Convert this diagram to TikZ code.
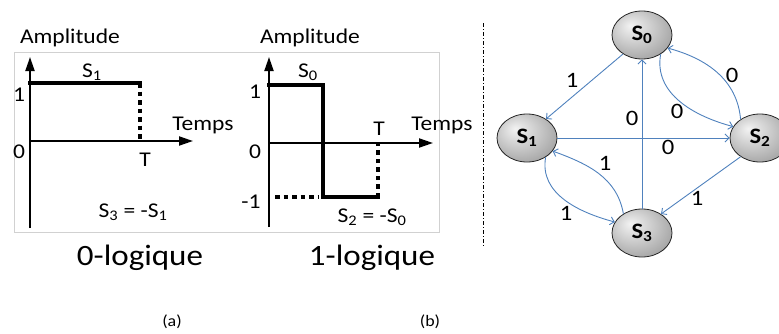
\documentclass[tikz,border=0pt]{standalone}
\usepackage{fontspec}
\setmainfont{Carlito}[FakeStretch=1.12]
\usetikzlibrary{arrows.meta,shapes.geometric}
\definecolor{edgeblue}{RGB}{79,129,189}
\pgfdeclareradialshading{stateball}{\pgfpoint{-10bp}{10bp}}{color(0bp)=(black!5); color(18bp)=(black!22); color(42bp)=(black!45); color(60bp)=(black!60)}
\tikzset{
  txt/.style={inner sep=0pt, font=\fontsize{21}{23}\selectfont},
  bigtxt/.style={inner sep=0pt, font=\fontsize{29.5}{32}\selectfont},
  captxt/.style={inner sep=0pt, font=\fontsize{16}{18}\selectfont},
  axis/.style={line width=2pt, -{Triangle[length=14pt,width=9pt]}},
  sig/.style={line width=3.5pt, line cap=rect},
  dots/.style={line width=4.5pt, dash pattern=on 4.5pt off 4pt},
  state/.style={ellipse, draw=black!85, line width=0.8pt, shading=stateball, minimum width=60pt, minimum height=48pt, inner sep=0pt, font=\fontsize{22}{24}\selectfont\bfseries},
  tr/.style={draw=edgeblue, line width=0.9pt, -{Straight Barb[length=4pt,width=8pt]}},
  elab/.style={inner sep=0pt, font=\fontsize{22}{24}\selectfont},
}
\begin{document}
\begin{tikzpicture}[x=1pt,y=1pt]
\useasboundingbox (0,0) rectangle (779,333);
% frame
\draw[black!18, line width=0.8pt] (14,101) rectangle (439,281);
% ---------- left plot ----------
\coordinate (ly0) at (30,105);
\coordinate (ly1) at (30,276);
\coordinate (lx0) at (30,192);
\coordinate (lx1) at (193,192);
\coordinate (la) at (30,250);
\coordinate (lb) at (140,250);
\coordinate (lc) at (140,192);
\draw[dots] (lb) -- (lc);
\draw[axis] (ly0) -- (ly1);
\draw[axis] (lx0) -- (lx1);
\draw[sig] (la) -- (lb);
\node[txt] (lamp) at (70,295) {Amplitude};
\node[txt] (l1) at (19,238) {1};
\node[txt] (l0) at (19,181) {0};
\node[txt] (ls1) at (92,261) {S\textsubscript{1}};
\node[txt] (ltemps) at (203,208) {Temps};
\node[txt] (lT) at (145,173) {T};
\node[txt] (ls3) at (133,121) {S\textsubscript{3} = -S\textsubscript{1}};
\node[bigtxt] (l0log) at (140,75) {0-logique};
% ---------- right plot ----------
\coordinate (ry0) at (269,106);
\coordinate (ry1) at (269,276);
\coordinate (rx0) at (269,190);
\coordinate (rx1) at (433,190);
\coordinate (ra) at (269,248);
\coordinate (rb) at (323,248);
\coordinate (rc) at (323,136);
\coordinate (rd) at (378,136);
\coordinate (re) at (378,190);
\coordinate (rf) at (275,136);
\coordinate (rg) at (318,136);
\draw[dots] (rd) -- (re);
\draw[dots] (rf) -- (rg);
\draw[axis] (ry0) -- (ry1);
\draw[axis] (rx0) -- (rx1);
\draw[sig, line join=miter] (ra) -- (rb) -- (rc) -- (rd);
\node[txt] (ramp) at (310,295) {Amplitude};
\node[txt] (r1) at (255,241) {1};
\node[txt] (r0) at (255,181) {0};
\node[txt] (rm1) at (251,131) {-1};
\node[txt] (rs0) at (308,261) {S\textsubscript{0}};
\node[txt] (rT) at (379,204) {T};
\node[txt] (rtemps) at (442,208) {Temps};
\node[txt] (rs2) at (372,116) {S\textsubscript{2} = -S\textsubscript{0}};
\node[bigtxt] (r1log) at (372,75) {1-logique};
% separator
\coordinate (sepa) at (483,310);
\coordinate (sepb) at (483,86);
\draw[line width=0.8pt, dash pattern=on 4pt off 2pt on 1pt off 2pt] (sepa) -- (sepb);
% ---------- state graph ----------
\node[state] (s0) at (642,298) {S\textsubscript{0}};
\node[state] (s1) at (527,195) {S\textsubscript{1}};
\node[state] (s2) at (760,195) {S\textsubscript{2}};
\node[state] (s3) at (642,100) {S\textsubscript{3}};
\draw[tr] (s0.225) -- (s1.45);
\draw[tr] (s3.90) -- (s0.270);
\draw[tr] (s1.0) -- (s2.180);
\draw[tr] (s0.314) to[out=-100,in=165] (s2.157);
\draw[tr] (s2.136) to[out=95,in=-15] (s0.333);
\draw[tr] (s2.224) -- (s3.45);
\draw[tr] (s3.134) to[out=100,in=-20] (s1.-27);
\draw[tr] (s1.-46) to[out=-100,in=165] (s3.158);
\node[elab] (e01) at (572,253) {1};
\node[elab] (e30) at (632,215) {0};
\node[elab] (e12) at (668,186) {0};
\node[elab] (e02) at (677,222) {0};
\node[elab] (e20) at (732,258) {0};
\node[elab] (e23) at (697,135) {1};
\node[elab] (e31) at (605,170) {1};
\node[elab] (e13) at (566,120) {1};
% captions
\node[captxt] (capa) at (172,11) {(a)};
\node[captxt] (capb) at (430,11) {(b)};
\end{tikzpicture}
\end{document}
